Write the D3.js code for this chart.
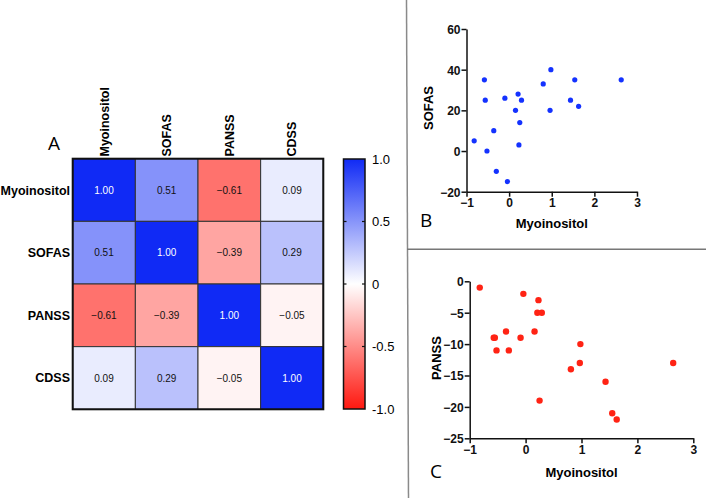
<!DOCTYPE html>
<html><head><meta charset="utf-8">
<script src="https://cdn.jsdelivr.net/npm/d3@7"></script>
<style>body{margin:0;background:#fff}svg{display:block}text{font-family:"Liberation Sans",Arial,sans-serif}</style>
</head><body>
<svg id="c" width="708" height="500"></svg>
<script>
// ---------- data ----------
const variables = ["Myoinositol", "SOFAS", "PANSS", "CDSS"];
const corrMatrix = [
  [1.00, 0.51, -0.61, 0.09],
  [0.51, 1.00, -0.39, 0.29],
  [-0.61, -0.39, 1.00, -0.05],
  [0.09, 0.29, -0.05, 1.00]
];
const colorbarTicks = [1, 0.5, 0, -0.5, -1];
const colorbarLabels = ["1.0", "0.5", "0", "-0.5", "-1.0"];

const sofasX = [-0.82, -0.58, -0.56, -0.52, -0.36, -0.30, -0.10, -0.04, 0.15, 0.21, 0.23, 0.25, 0.29, 0.80, 0.98, 0.96, 1.44, 1.54, 1.63, 2.63];
const sofasY = [5, 35, 25, 0, 10, -10, 26, -15, 20, 28, 3, 14, 25, 33, 40, 20, 25, 35, 22, 35];
const sofasYTicks = [60, 40, 20, 0, -20];

const panssX = [-0.82, -0.57, -0.55, -0.52, -0.35, -0.30, -0.09, -0.04, 0.16, 0.23, 0.21, 0.29, 0.25, 0.81, 0.98, 0.97, 1.43, 1.55, 1.63, 2.64];
const panssY = [-1, -9, -9, -11, -8, -11, -9, -2, -8, -3, -5, -5, -19, -14, -10, -13, -16, -21, -22, -13];
const panssYTicks = [0, -5, -10, -15, -20, -25];
const myoXTicks = [-1, 0, 1, 2, 3];

// ---------- drawing ----------
const svg = d3.select("#c");
const blue = "rgb(16,42,245)", red = "rgb(255,24,16)";
const color = d3.scaleLinear().domain([-1, 0, 1]).range([red, "#ffffff", blue]);

// separators
svg.append("line").attr("x1", 406.5).attr("y1", 0).attr("x2", 408.5).attr("y2", 498)
  .attr("stroke", "#8a8a8a").attr("stroke-width", 1.5);
svg.append("line").attr("x1", 407).attr("y1", 249.3).attr("x2", 706).attr("y2", 249.3)
  .attr("stroke", "#777").attr("stroke-width", 1.5);

// heatmap
const hx = d3.scaleBand().domain(variables).range([72.7, 323.3]);
const hy = d3.scaleBand().domain(variables).range([158.7, 409.3]);
const cells = [];
corrMatrix.forEach((row, i) => row.forEach((v, j) => cells.push({r: variables[i], c: variables[j], v})));
const hm = svg.append("g");
hm.selectAll("rect").data(cells).join("rect")
  .attr("x", d => hx(d.c)).attr("y", d => hy(d.r))
  .attr("width", hx.bandwidth()).attr("height", hy.bandwidth())
  .attr("fill", d => color(d.v)).attr("stroke", "#333").attr("stroke-width", 1);
hm.selectAll("text.v").data(cells).join("text").attr("class", "v")
  .attr("x", d => hx(d.c) + hx.bandwidth() / 2).attr("y", d => hy(d.r) + hy.bandwidth() / 2 + 3.6)
  .attr("text-anchor", "middle").attr("font-size", "10px")
  .attr("fill", d => d.v > 0.8 ? "#fff" : "#111")
  .text(d => d3.format(".2f")(d.v));
hm.append("rect").attr("x", 72.7).attr("y", 158.7).attr("width", 323.3 - 72.7).attr("height", 409.3 - 158.7)
  .attr("fill", "none").attr("stroke", "#111").attr("stroke-width", 2);
// row labels
hm.selectAll("text.r").data(variables).join("text").attr("class", "r")
  .attr("x", 70).attr("y", d => hy(d) + hy.bandwidth() / 2 + 4.5)
  .attr("text-anchor", "end").attr("font-size", "12.5px").attr("font-weight", "bold").text(d => d);
// column labels
hm.selectAll("text.cl").data(variables).join("text").attr("class", "cl")
  .attr("transform", d => `translate(${hx(d) + hx.bandwidth() / 2 + 4.5},156.5) rotate(-90)`)
  .attr("text-anchor", "start").attr("font-size", "12.5px").attr("font-weight", "bold").text(d => d);
svg.append("text").attr("x", 48).attr("y", 150).attr("font-size", "19px")
  .style("font-family", "'Open Sans',sans-serif").text("A");

// colorbar
const cby = d3.scaleLinear().domain([-1, 1]).range([409, 159]);
const grad = svg.append("defs").append("linearGradient").attr("id", "cbg")
  .attr("x1", 0).attr("y1", 1).attr("x2", 0).attr("y2", 0);
[-1, 0, 1].forEach(v => grad.append("stop").attr("offset", (v + 1) / 2).attr("stop-color", color(v)));
svg.append("rect").attr("x", 343.5).attr("y", 159).attr("width", 21.5).attr("height", 250)
  .attr("fill", "url(#cbg)").attr("stroke", "#111").attr("stroke-width", 1.5);
const cbt = svg.append("g");
colorbarTicks.forEach((t, i) => {
  const y = cby(t);
  if (Math.abs(t) < 1) {
    cbt.append("line").attr("x1", 343.5).attr("x2", 346.5).attr("y1", y).attr("y2", y).attr("stroke", "#111").attr("stroke-width", 1.2);
    cbt.append("line").attr("x1", 362).attr("x2", 365).attr("y1", y).attr("y2", y).attr("stroke", "#111").attr("stroke-width", 1.2);
  }
  cbt.append("text").attr("x", 372).attr("y", y + 4.7).attr("font-size", "13px").text(colorbarLabels[i]);
});

// scatter helper
function scatter(opts) {
  const x = d3.scaleLinear().domain([-1, 3]).range(opts.xr);
  const y = d3.scaleLinear().domain(opts.yd).range(opts.yr);
  const g = svg.append("g");
  const ax = g.append("g").attr("transform", `translate(0,${opts.yr[0]})`)
    .call(d3.axisBottom(x).tickValues(myoXTicks).tickSize(5).tickPadding(2).tickSizeOuter(0).tickFormat(d3.format("d")));
  const ay = g.append("g").attr("transform", `translate(${opts.xr[0]},0)`)
    .call(d3.axisLeft(y).tickValues(opts.yt).tickSize(5).tickPadding(1).tickSizeOuter(0).tickFormat(d3.format("d")));
  [ax, ay].forEach(a => {
    a.selectAll("path,line").attr("stroke", "#111").attr("stroke-width", 1.5);
    a.selectAll("text").attr("font-size", "12px").attr("font-weight", "bold").attr("fill", "#111")
      .style("font-family", "'Liberation Sans',Arial,sans-serif");
  });
  ay.selectAll("text").attr("dy", "0.36em");
  g.selectAll("circle").data(opts.xs).join("circle")
    .attr("cx", d => x(d)).attr("cy", (d, i) => y(opts.ys[i])).attr("r", opts.r).attr("fill", opts.fill);
  g.append("text").attr("x", (opts.xr[0] + opts.xr[1]) / 2).attr("y", opts.xlY)
    .attr("text-anchor", "middle").attr("font-size", "13px").attr("font-weight", "bold").text("Myoinositol");
  g.append("text").attr("transform", `translate(${opts.ylX},${opts.ylY}) rotate(-90)`)
    .attr("text-anchor", "middle").attr("font-size", "13px").attr("font-weight", "bold").text(opts.ylab);
  g.append("text").attr("x", opts.letX).attr("y", opts.letY).attr("font-size", "19px")
    .style("font-family", "'Open Sans',sans-serif").text(opts.letter);
}

scatter({xr: [466.5, 637], yd: [-20, 60], yr: [191.7, 29], yt: sofasYTicks, xs: sofasX, ys: sofasY,
  r: 2.6, fill: "rgb(20,50,255)", xlY: 227.5, ylX: 432.5, ylY: 108, ylab: "SOFAS", letter: "B", letX: 420, letY: 227});
scatter({xr: [469.7, 693.3], yd: [-25, 0], yr: [438.3, 281.3], yt: panssYTicks, xs: panssX, ys: panssY,
  r: 3.2, fill: "rgb(255,35,20)", xlY: 476.5, ylX: 440.5, ylY: 358, ylab: "PANSS", letter: "C", letX: 430, letY: 478});
</script>
</body></html>
